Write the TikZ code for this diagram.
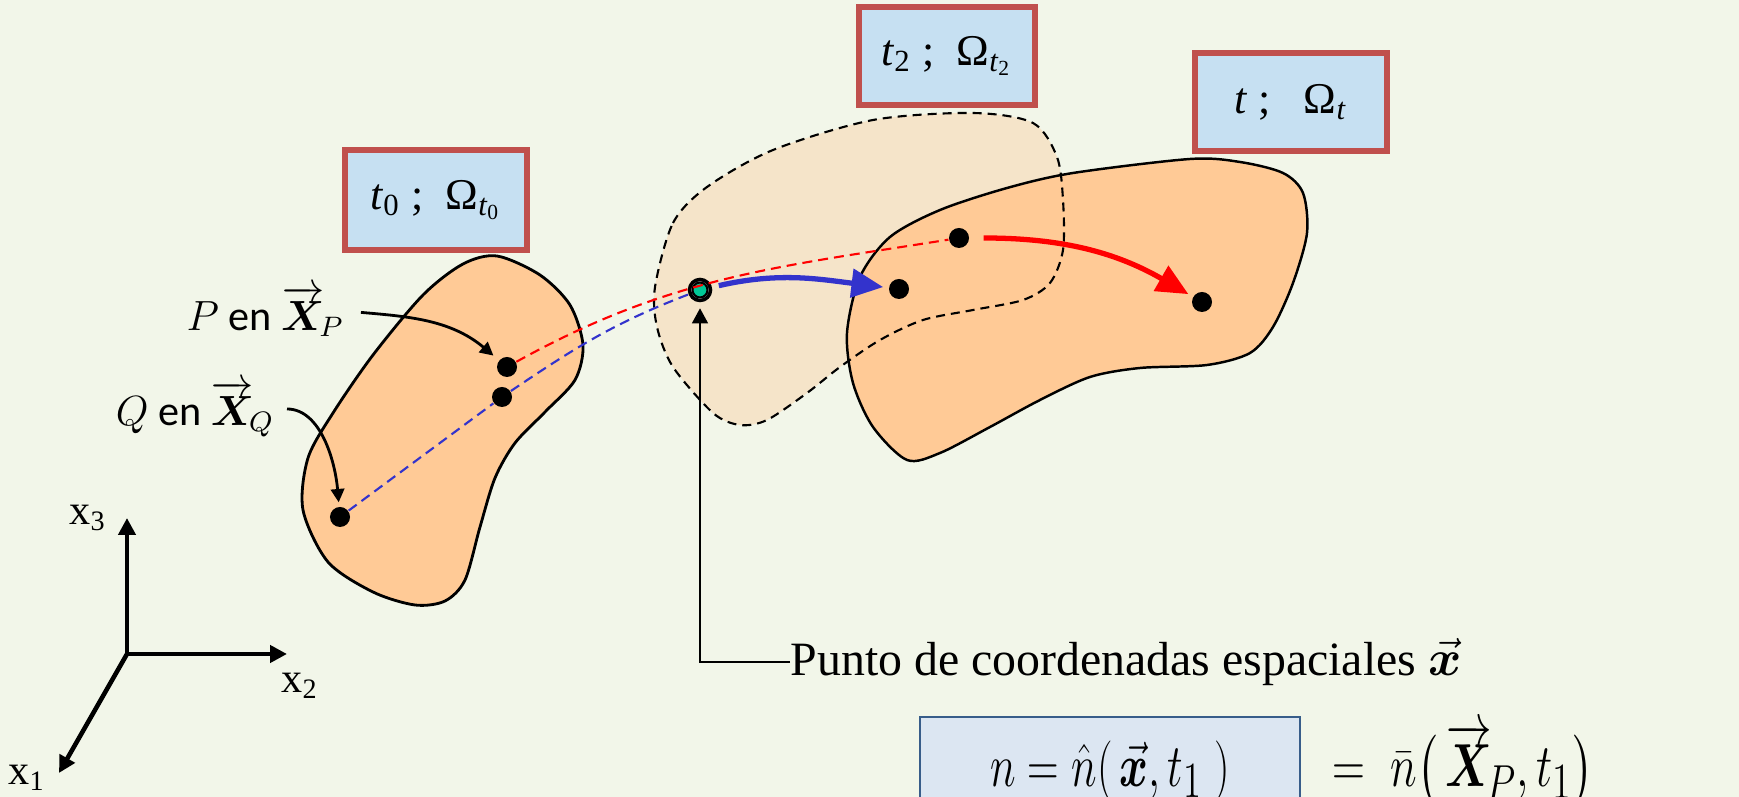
\documentclass[tikz,border=0pt]{standalone}
\usepackage{fontspec}
\setmainfont{Liberation Serif}
\newfontfamily\calfont{Carlito}
\usepackage{amsmath,bm}
\usepackage{graphicx}
\usetikzlibrary{arrows.meta}

\definecolor{bgcol}{HTML}{F2F6E9}
\definecolor{regcol}{HTML}{FFCA96}
\definecolor{ghostcol}{HTML}{F5E4C9}
\definecolor{tagfill}{HTML}{C6E0F2}
\definecolor{tagline}{HTML}{C0504D}
\definecolor{eqfill}{HTML}{DCE6F2}
\definecolor{eqline}{HTML}{385D8A}
\definecolor{arrblue}{HTML}{3333CC}
\definecolor{spgreen}{HTML}{00C896}

\tikzset{
  tag/.style={draw=tagline,line width=1.7pt,fill=tagfill,inner sep=0pt,
    font=\fontsize{12.5}{15}\selectfont},
  dot/.style={circle,fill=black,inner sep=0pt,minimum size=0.2cm},
  spot/.style={circle,draw=black,fill=white,line width=1pt,inner sep=0pt,minimum size=0.21cm},
  axis/.style={line width=1.3pt,-{Triangle[length=4.8pt,width=4.8pt]}},
  lbl/.style={font=\fontsize{12}{14}\selectfont\calfont,inner sep=0pt},
  pointer/.style={line width=0.8pt,-{Triangle[length=3.8pt,width=3.8pt]}},
  traj/.style={line width=0.6pt,dash pattern=on 1mm off 0.6mm},
  move/.style={line width=1.5pt,-{Triangle[length=9pt,width=8pt]}},
  eqbox/.style={draw=eqline,fill=eqfill,line width=0.6pt,inner sep=0pt,
    minimum width=3.79cm,minimum height=1.08cm},
}

\begin{document}
\begin{tikzpicture}[x=0.01cm,y=0.01cm]
\useasboundingbox (0,0) rectangle (1739,797);
\fill[bgcol] (0,0) rectangle (1739,797);

% regions
\fill[ghostcol] plot[smooth cycle] coordinates {(655,510) (673,574) (707,610) (773,647) (873,677) (973,684) (1033,674) (1057,640) (1063,597) (1063,547) (1050,514) (1023,497) (973,487) (923,477) (880,457) (840,430) (807,404) (767,377) (740,372) (713,384) (673,430) (657,470)};
\draw[fill=regcol,line width=0.7pt] plot[smooth cycle] coordinates {(1190,638) (1240,635) (1283,624) (1303,604) (1307,564) (1293,514) (1273,470) (1250,444) (1207,432) (1140,429) (1090,420) (1040,397) (990,370) (940,344) (907,337) (873,370) (853,414) (847,464) (860,520) (890,560) (940,587) (1007,609) (1073,624)};
\draw[line width=0.6pt,dash pattern=on 0.9mm off 0.6mm] plot[smooth cycle] coordinates {(655,510) (673,574) (707,610) (773,647) (873,677) (973,684) (1033,674) (1057,640) (1063,597) (1063,547) (1050,514) (1023,497) (973,487) (923,477) (880,457) (840,430) (807,404) (767,377) (740,372) (713,384) (673,430) (657,470)};
\draw[fill=regcol,line width=0.8pt] plot[smooth cycle] coordinates {(497,541) (540,522) (570,492) (583,452) (575,417) (545,385) (515,354) (495,319) (480,270) (465,217) (445,196) (415,192) (373,205) (328,235) (303,287) (308,339) (333,384) (373,442) (423,502) (463,533)};

% points
\node[dot] (p) at (507,430) {};
\node[dot] (q) at (502,400) {};
\node[dot] (q0) at (340,280) {};
\node[spot] (sp) at (700,507) {};
\fill[spgreen,draw=black,line width=0.6pt] (sp.center) circle (0.075cm);
\node[dot] (pb) at (899,508) {};
\node[dot] (pr) at (959,559) {};
\node[dot] (pe) at (1202,495) {};

% trajectories
\draw[traj,red] (p) to[out=29,in=189] (pr);
\draw[traj,arrblue] (q0) -- (q) to[out=34,in=201] (sp);
\draw[move,arrblue,shorten <=2pt,shorten >=1.5pt] (sp) to[out=13,in=173] (pb);
\draw[move,red,shorten <=0.14cm,shorten >=0.05cm] (pr) to[out=0,in=150] (pe);

% labels
\node[lbl,anchor=east] (lp) at (345,486) {$P$ en $\overrightarrow{\bm X}_{\!P}$};
\node[lbl,anchor=east] (lq) at (275,388) {$Q$ en $\overrightarrow{\bm X}_{\!Q}$};
\draw[pointer,shorten <=0.16cm,shorten >=0.07cm] (lp.east) to[out=-5,in=140] (p);
\draw[pointer,shorten <=0.12cm,shorten >=0.04cm] (lq.east) to[out=0,in=95] (q0);

\node[anchor=west,inner sep=0pt,font=\fontsize{13.6}{16}\selectfont] (spat) at (790,135)
  {Punto de coordenadas espaciales $\vec{\bm x}$};
\draw[line width=0.6pt,-{Triangle[length=4.3pt,width=4.5pt]},shorten >=0.06cm] (spat.west) -| (sp);

% axes
\coordinate (o) at (127,143);
\coordinate (e3) at (127,279);
\coordinate (e2) at (287,143);
\coordinate (e1) at (59,24);
\draw[axis] (o) -- (e3);
\draw[axis] (o) -- (e2);
\draw[axis] (o) -- (e1);
\node[font=\fontsize{12}{14}\selectfont] (x3) at (88,279) {x\textsubscript{3}};
\node[font=\fontsize{12}{14}\selectfont] (x2) at (300,111) {x\textsubscript{2}};
\node[font=\fontsize{12}{14}\selectfont] (x1) at (27,19) {x\textsubscript{1}};

% time tags
\node[tag,minimum width=1.81cm,minimum height=0.99cm] (tag0) at (436,597)
  {\textit{t}\textsubscript{0} ;~ Ω\textsubscript{\textit{t}\textsubscript{0}}};
\node[tag,minimum width=1.75cm,minimum height=0.97cm] (tag2) at (947,741)
  {\textit{t}\textsubscript{2} ;~ Ω\textsubscript{\textit{t}\textsubscript{2}}};
\node[tag,minimum width=1.91cm,minimum height=0.98cm] (tagt) at (1291,695)
  {\textit{t} ;~~ Ω\textsubscript{\textit{t}}};

% formula
\node[eqbox,font=\fontsize{19}{22}\selectfont] (eqa) at (1110,26)
  {\scalebox{0.72}[1]{$n=\hat{n}(\,\vec{\bm x},t_1\ )$}};
\node[anchor=base,inner sep=0pt,font=\fontsize{19}{22}\selectfont] (eqb) at (1463,10)
  {\scalebox{0.75}[1]{$=\;\bar{n}\big(\,\overrightarrow{\bm X}_{\!P},t_1\big)$}};
\end{tikzpicture}
\end{document}
